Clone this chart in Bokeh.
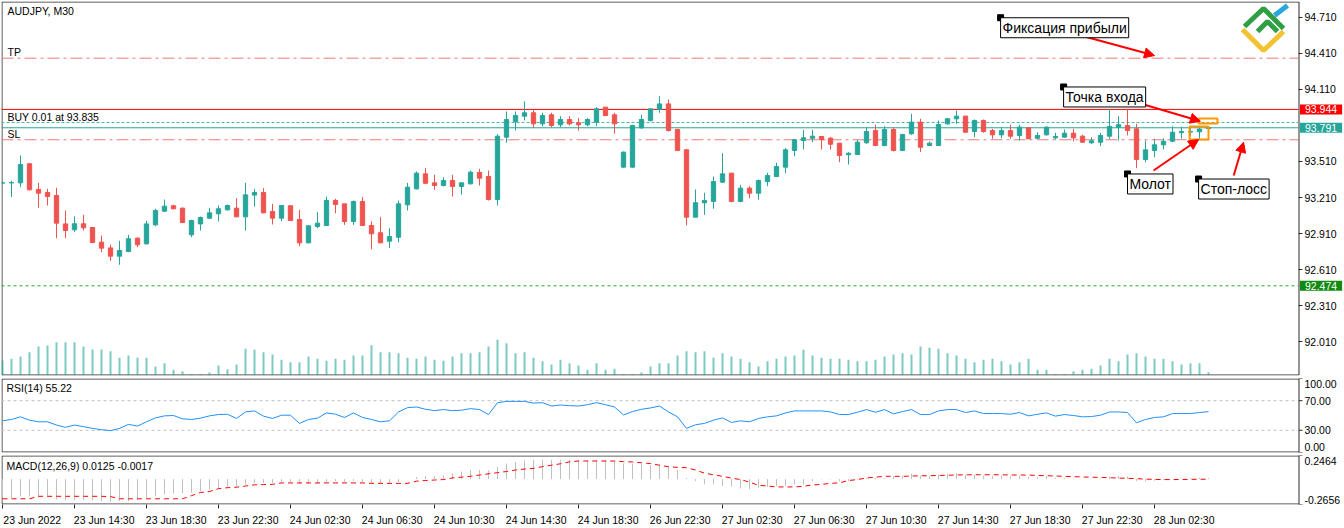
from bokeh.plotting import figure
from bokeh.layouts import column
from bokeh.models import (Range1d, LinearAxis, FixedTicker, Label, Arrow, NormalHead,
                          ColumnDataSource)
from bokeh.core.properties import value
from bokeh.embed import file_html
from bokeh.resources import INLINE

# ---------------- data ----------------
opens = [
    93.330, 93.332, 93.332, 93.491, 93.277, 93.252, 93.227, 92.990, 92.941, 92.991,
    92.960, 92.838, 92.790, 92.721, 92.760, 92.871, 92.824, 92.982, 93.096, 93.141,
    93.121, 92.899, 92.990, 93.038, 93.074, 93.107, 93.121, 93.049, 93.230, 93.252,
    93.093, 93.038, 93.141, 93.027, 92.832, 92.968, 92.977, 93.185, 93.157, 93.010,
    93.177, 92.977, 92.916, 92.846, 92.879, 93.149, 93.282, 93.407, 93.332, 93.310,
    93.352, 93.302, 93.324, 93.418, 93.385, 93.193, 93.713, 93.843, 93.888, 93.916,
    93.824, 93.899, 93.816, 93.860, 93.832, 93.816, 93.838, 93.963, 93.899, 93.463,
    93.463, 93.791, 93.852, 93.943, 93.990, 93.777, 93.607, 93.046, 93.166, 93.177,
    93.338, 93.413, 93.177, 93.288, 93.246, 93.343, 93.385, 93.463, 93.602, 93.685,
    93.704, 93.718, 93.704, 93.663, 93.566, 93.568, 93.666, 93.768, 93.643, 93.777,
    93.602, 93.741, 93.838, 93.643, 93.643, 93.824, 93.866, 93.888, 93.760, 93.852,
    93.768, 93.732, 93.768, 93.727, 93.791, 93.704, 93.732, 93.707, 93.713, 93.746,
    93.721, 93.666, 93.671, 93.721, 93.796, 93.810, 93.782, 93.527, 93.602, 93.649,
    93.679, 93.750, 93.755, 93.757, 93.785]
highs = [
    93.340, 93.350, 93.560, 93.496, 93.332, 93.282, 93.291, 93.102, 93.054, 93.066,
    92.963, 92.893, 92.818, 92.849, 92.899, 92.879, 93.016, 93.116, 93.193, 93.149,
    93.127, 93.024, 93.052, 93.124, 93.143, 93.152, 93.204, 93.332, 93.282, 93.288,
    93.157, 93.143, 93.141, 93.107, 92.977, 93.088, 93.218, 93.199, 93.157, 93.185,
    93.213, 93.010, 93.046, 92.954, 93.185, 93.332, 93.427, 93.457, 93.399, 93.379,
    93.399, 93.332, 93.435, 93.449, 93.435, 93.738, 93.927, 93.927, 94.010, 93.943,
    93.916, 93.916, 93.888, 93.888, 93.871, 93.871, 93.963, 93.963, 93.916, 93.593,
    93.816, 93.899, 93.954, 94.055, 94.027, 93.782, 93.616, 93.277, 93.249, 93.385,
    93.579, 93.413, 93.316, 93.304, 93.360, 93.416, 93.499, 93.621, 93.699, 93.774,
    93.774, 93.721, 93.713, 93.663, 93.588, 93.691, 93.796, 93.816, 93.804, 93.796,
    93.741, 93.907, 93.866, 93.677, 93.852, 93.871, 93.935, 93.893, 93.860, 93.860,
    93.782, 93.796, 93.816, 93.816, 93.796, 93.754, 93.804, 93.749, 93.777, 93.782,
    93.732, 93.713, 93.749, 93.949, 93.888, 93.949, 93.824, 93.685, 93.699, 93.704,
    93.804, 93.800, 93.790, 93.795, 93.795]
lows = [
    93.325, 93.215, 93.296, 93.270, 93.124, 93.143, 92.871, 92.871, 92.921, 92.935,
    92.829, 92.754, 92.682, 92.649, 92.754, 92.796, 92.818, 92.971, 93.093, 93.110,
    92.996, 92.879, 92.935, 93.032, 93.010, 93.102, 93.046, 92.935, 93.135, 93.079,
    92.985, 93.013, 93.018, 92.804, 92.829, 92.954, 92.974, 93.079, 92.982, 92.982,
    92.971, 92.777, 92.832, 92.788, 92.838, 93.102, 93.277, 93.321, 93.274, 93.302,
    93.218, 93.235, 93.318, 93.310, 93.185, 93.143, 93.666, 93.768, 93.852, 93.791,
    93.804, 93.796, 93.796, 93.810, 93.768, 93.804, 93.804, 93.888, 93.741, 93.457,
    93.457, 93.782, 93.843, 93.916, 93.760, 93.596, 92.977, 93.046, 93.066, 93.116,
    93.332, 93.171, 93.171, 93.204, 93.191, 93.304, 93.385, 93.413, 93.554, 93.610,
    93.671, 93.610, 93.610, 93.504, 93.485, 93.568, 93.657, 93.638, 93.638, 93.593,
    93.596, 93.732, 93.588, 93.638, 93.643, 93.816, 93.824, 93.749, 93.713, 93.749,
    93.699, 93.704, 93.699, 93.685, 93.699, 93.699, 93.727, 93.693, 93.707, 93.679,
    93.666, 93.657, 93.638, 93.699, 93.685, 93.727, 93.454, 93.504, 93.546, 93.610,
    93.671, 93.700, 93.720, 93.700, 93.780]
closes = [
    93.332, 93.334, 93.485, 93.274, 93.246, 93.218, 92.996, 92.935, 92.991, 92.957,
    92.835, 92.788, 92.721, 92.768, 92.866, 92.816, 92.990, 93.102, 93.138, 93.116,
    93.002, 93.018, 93.043, 93.082, 93.116, 93.143, 93.049, 93.232, 93.252, 93.082,
    93.038, 93.143, 93.018, 92.832, 92.974, 92.996, 93.185, 93.152, 93.010, 93.177,
    92.977, 92.907, 92.832, 92.885, 93.157, 93.296, 93.413, 93.329, 93.310, 93.352,
    93.302, 93.332, 93.421, 93.371, 93.193, 93.721, 93.860, 93.893, 93.916, 93.824,
    93.893, 93.810, 93.860, 93.824, 93.816, 93.860, 93.949, 93.893, 93.824, 93.588,
    93.810, 93.860, 93.949, 93.990, 93.768, 93.602, 93.046, 93.166, 93.185, 93.343,
    93.407, 93.177, 93.288, 93.246, 93.352, 93.393, 93.468, 93.607, 93.691, 93.707,
    93.721, 93.691, 93.654, 93.560, 93.579, 93.671, 93.760, 93.643, 93.777, 93.602,
    93.735, 93.838, 93.629, 93.663, 93.818, 93.866, 93.888, 93.754, 93.852, 93.760,
    93.732, 93.768, 93.721, 93.796, 93.699, 93.727, 93.796, 93.718, 93.746, 93.707,
    93.671, 93.682, 93.727, 93.802, 93.816, 93.768, 93.527, 93.607, 93.649, 93.679,
    93.754, 93.760, 93.760, 93.780, 93.791]
volume = [
    15, 16.7, 19, 23.3, 29, 30, 33.3, 33.3, 33.3, 29,
    26, 26, 24.3, 17.7, 20, 17.7, 17.7, 9, 12.3, 5.7,
    4.3, 1, 1, 3, 10, 6.3, 11, 26.7, 25.7, 23.3,
    21, 15.7, 13.3, 13.3, 19, 16.7, 14.7, 16.7, 15.7, 20,
    20, 30.3, 23.3, 23.3, 22.3, 17.7, 16.7, 19, 15.7, 14.7,
    19, 22.3, 22.3, 23.3, 29, 35.7, 32.3, 22.3, 23.3, 17.7,
    14.3, 11, 15.7, 12.3, 10, 5.7, 12.3, 5.7, 6.7, 1,
    1, 3, 9, 12.3, 12.3, 20, 24.3, 23.3, 24.3, 17.7,
    22.3, 19, 16.7, 13.3, 9, 14.3, 16.7, 19, 20, 25.7,
    20, 17.7, 16.7, 16.7, 15.7, 14.3, 14.3, 15.7, 19, 21,
    22.3, 21, 29, 27.7, 26.7, 22.3, 20, 16.7, 13.3, 15.7,
    16.7, 14.3, 11, 13.3, 16.7, 5.7, 5.7, 1, 1, 4.3,
    5.7, 6.7, 10, 16.7, 14.3, 21, 22.3, 19, 16.7, 16.7,
    14.3, 11, 12.3, 12.3, 3.3]
rsi = [
    42.8, 44.6, 48.2, 43.7, 41.5, 41.5, 37.1, 34.0, 37.1, 34.9,
    32.6, 30.8, 29.5, 32.6, 38.0, 35.7, 41.5, 46.8, 49.5, 50.0,
    45.5, 44.6, 46.4, 49.5, 51.3, 51.7, 46.0, 54.8, 56.2, 49.1,
    46.0, 50.4, 50.4, 39.3, 44.6, 46.4, 53.5, 51.7, 47.3, 53.5,
    47.3, 44.6, 41.5, 42.8, 54.8, 60.6, 61.5, 58.4, 56.6, 58.0,
    56.6, 57.1, 59.3, 58.0, 51.3, 67.3, 69.1, 69.1, 69.1, 66.8,
    67.3, 62.8, 64.2, 63.3, 62.8, 64.6, 67.3, 64.6, 61.5, 50.8,
    55.3, 58.4, 60.2, 62.8, 54.8, 48.2, 32.6, 37.5, 39.3, 43.7,
    46.8, 40.6, 42.8, 41.5, 46.0, 48.2, 49.5, 53.5, 56.2, 56.2,
    56.2, 56.2, 54.8, 51.3, 51.3, 54.4, 58.0, 54.4, 58.0, 52.2,
    55.3, 58.0, 51.3, 51.3, 56.2, 58.0, 58.0, 54.0, 56.2, 52.6,
    52.6, 52.6, 51.7, 54.0, 49.5, 51.7, 53.5, 49.1, 51.3, 50.0,
    48.2, 48.6, 50.4, 54.8, 54.8, 54.0, 40.2, 44.6, 47.3, 48.2,
    52.6, 52.6, 52.6, 54.0, 55.22]
macd_main = [
    -0.19, -0.20, -0.18, -0.18, -0.19, -0.19, -0.21, -0.22, -0.22, -0.22,
    -0.225, -0.23, -0.235, -0.23, -0.23, -0.22, -0.20, -0.18, -0.16, -0.15,
    -0.15, -0.14, -0.13, -0.11, -0.10, -0.08, -0.08, -0.06, -0.04, -0.04,
    -0.04, -0.03, -0.03, -0.05, -0.05, -0.05, -0.03, -0.02, -0.03, -0.02,
    -0.03, -0.04, -0.05, -0.05, -0.03, 0.00, 0.02, 0.03, 0.03, 0.04,
    0.062, 0.079, 0.095, 0.095, 0.090, 0.129, 0.162, 0.179, 0.196, 0.202,
    0.202, 0.202, 0.202, 0.202, 0.196, 0.196, 0.202, 0.202, 0.189, 0.162,
    0.162, 0.156, 0.146, 0.146, 0.129, 0.095, 0.012, -0.022, -0.055, -0.055,
    -0.072, -0.079, -0.099, -0.105, -0.089, -0.082, -0.072, -0.072, -0.055, -0.055,
    -0.022, -0.005, -0.005, -0.022, -0.022, -0.005, 0.012, 0.012, 0.012, 0.029,
    0.035, 0.055, 0.035, 0.029, 0.045, 0.055, 0.062, 0.045, 0.045, 0.035,
    0.035, 0.035, 0.029, 0.035, 0.022, 0.022, 0.029, 0.012, 0.012, 0.008,
    0.002, 0.002, 0.008, 0.029, 0.035, 0.029, -0.022, -0.025, -0.018, -0.012,
    0.002, 0.005, 0.008, 0.012, 0.0125]
macd_signal = [
    -0.206, -0.206, -0.206, -0.206, -0.18, -0.18, -0.18, -0.18, -0.18, -0.18,
    -0.18, -0.18, -0.183, -0.206, -0.206, -0.206, -0.206, -0.206, -0.206, -0.206,
    -0.206, -0.173, -0.14, -0.13, -0.10, -0.09, -0.085, -0.073, -0.06, -0.057,
    -0.055, -0.04, -0.04, -0.04, -0.04, -0.04, -0.04, -0.04, -0.04, -0.04,
    -0.04, -0.045, -0.045, -0.045, -0.045, -0.045, -0.022, -0.015, -0.01, -0.005,
    0.012, 0.02, 0.029, 0.042, 0.055, 0.067, 0.079, 0.095, 0.105, 0.112,
    0.13, 0.145, 0.16, 0.18, 0.189, 0.189, 0.189, 0.189, 0.189, 0.182,
    0.179, 0.17, 0.162, 0.145, 0.129, 0.122, 0.119, 0.095, 0.062, 0.045,
    0.029, 0.010, -0.005, -0.032, -0.065, -0.072, -0.082, -0.082, -0.082, -0.075,
    -0.062, -0.055, -0.045, -0.039, -0.015, -0.005, 0.012, 0.020, 0.029, 0.029,
    0.029, 0.032, 0.034, 0.035, 0.038, 0.040, 0.043, 0.045, 0.045, 0.045,
    0.045, 0.045, 0.043, 0.042, 0.042, 0.038, 0.035, 0.032, 0.029, 0.025,
    0.022, 0.020, 0.018, 0.014, 0.011, 0.008, 0.004, 0.0, -0.004, -0.005,
    -0.005, -0.004, -0.003, -0.002, -0.0017]

time_tick_bars = [0, 8, 16, 24, 32, 40, 48, 56, 64, 72, 80, 88, 96, 104, 112, 120, 128]
time_tick_labels = ["23 Jun 2022", "23 Jun 14:30", "23 Jun 18:30", "23 Jun 22:30",
                    "24 Jun 02:30", "24 Jun 06:30", "24 Jun 10:30", "24 Jun 14:30",
                    "24 Jun 18:30", "26 Jun 22:30", "27 Jun 02:30", "27 Jun 06:30",
                    "27 Jun 10:30", "27 Jun 14:30", "27 Jun 18:30", "27 Jun 22:30",
                    "28 Jun 02:30"]
price_ticks = [92.01, 92.31, 92.61, 92.91, 93.21, 93.51, 94.11, 94.41, 94.71]
rsi_ticks = [0, 30, 70, 100]
rsi_label_at = [6.8, 30, 70, 93.2]          # MetaTrader pulls edge labels inward
rsi_tick_labels = ["0.00", "30.00", "70.00", "100.00"]
macd_ticks = [-0.2656, 0.2464]
macd_label_at = [-0.2154, 0.186]
macd_tick_labels = ["-0.2656", "0.2464"]

tp_level, ask_level, entry_level, bid_level, sl_level, alert_level = 94.371, 93.944, 93.835, 93.791, 93.691, 92.474

# annotation texts anchored (top-left) at bar index / price
notes_text = ["Фиксация прибыли", "Точка входа", "Молот", "Стоп-лосс"]
notes_x = [110.9, 117.9, 125.0, 132.9]
notes_y = [94.708, 94.131, 93.406, 93.364]
# arrows (start bar, start price, end bar, end price)
arrows = [(119.8, 94.560, 128.0, 94.393),
          (126.8, 93.985, 133.1, 93.846),
          (127.9, 93.435, 132.9, 93.693),
          (136.8, 93.393, 137.9, 93.671)]
# highlight boxes (left bar, right bar, bottom price, top price)
boxes = [(131.9, 134.0, 93.693, 93.802), (132.9, 135.0, 93.827, 93.868)]

# ---------------- style helpers ----------------
FONT = "Liberation Sans"
FS = "10.5px"
TEAL = "#26a69a"
RED = "#ef5350"
FRAME = "#2b2b2b"
BAR_PX = 9.0                     # pixels per bar
AXIS_X = 1296 / BAR_PX           # bar position of the price scale line (x = 1298 px)

n = len(closes)
idx = list(range(n))
x_all = Range1d(-1 / BAR_PX, 1342 / BAR_PX)   # every frame spans the full width; scales drawn inside


def make_fig(height, y_range, top_px, bottom_px, border_bottom):
    f = figure(width=1344, height=height, title=None, x_range=x_range_holder[0], y_range=y_range,
               output_backend="svg", toolbar_location=None, x_axis_location=None,
               y_axis_location=None, min_border_left=1, min_border_right=0,
               min_border_top=1, min_border_bottom=border_bottom,
               background_fill_color="white", border_fill_color="white",
               outline_line_color=None)
    f.grid.grid_line_color = None
    f.extra_x_ranges = {"px": Range1d(1, 1344)}
    f.extra_y_ranges = {"py": Range1d(bottom_px, top_px)}
    # panel border and scale line
    f.multi_line(xs=[[1.5, 1.5, 1298.5, 1298.5, 1.5]],
                 ys=[[bottom_px - 0.5, top_px + 0.5, top_px + 0.5, bottom_px - 0.5, bottom_px - 0.5]],
                 line_color=FRAME, line_width=1, x_range_name="px", y_range_name="py")
    return f


x_range_holder = [x_all]


def draw_scale(f, tick_vals, label_vals, labels):
    f.segment(x0=[AXIS_X] * len(tick_vals), y0=tick_vals,
              x1=[AXIS_X + 4 / BAR_PX] * len(tick_vals), y1=tick_vals,
              line_color=FRAME, line_width=1)
    f.text(x=[AXIS_X] * len(label_vals), y=label_vals, text=labels,
           x_offset=6, text_font=value(FONT), text_font_size=FS, text_color="#000000",
           text_baseline="middle", text_align="left")


def hline(f, lvl, col, dash):
    f.segment(x0=[x_all.start], y0=[lvl], x1=[AXIS_X], y1=[lvl],
              line_color=col, line_dash=dash, line_width=1)


# ---------------- main price panel ----------------
p = make_fig(377, Range1d(91.7267, 94.8433), 1, 375, 2)
p.extra_y_ranges = {"py": Range1d(375, 1), "vol": Range1d(0, 374)}
draw_scale(p, price_ticks, price_ticks, [f"{t:.3f}" for t in price_ticks])

colors = [TEAL if c >= o else RED for o, c in zip(opens, closes)]
src = ColumnDataSource(dict(x=idx, o=opens, h=highs, l=lows, c=closes,
                            top=[max(o, c) for o, c in zip(opens, closes)],
                            bottom=[min(o, c) for o, c in zip(opens, closes)],
                            color=colors, vol=volume, zero=[0] * n))

p.segment(x0="x", y0="zero", x1="x", y1="vol", y_range_name="vol", source=src,
          line_color=TEAL, line_alpha=0.6, line_width=2)

for lvl, col, dash in [(tp_level, "#f07878", "12 4 3 4"),
                       (sl_level, "#f07878", "12 4 3 4"),
                       (ask_level, "#ff0000", "solid"),
                       (entry_level, "#4db6ac", "3 2"),
                       (bid_level, TEAL, "solid"),
                       (alert_level, "#22aa22", "3 3")]:
    hline(p, lvl, col, dash)

p.segment(x0="x", y0="l", x1="x", y1="h", source=src, line_color="color", line_width=1)
p.vbar(x="x", top="top", bottom="bottom", width=0.48, source=src,
       fill_color="color", line_color="color", line_width=1)

# orange highlight boxes
p.quad(left=[b[0] for b in boxes], right=[b[1] for b in boxes],
       bottom=[b[2] for b in boxes], top=[b[3] for b in boxes],
       fill_alpha=0, line_color="#ff9800", line_width=2)

# arrows
for xs, ys, xe, ye in arrows:
    p.add_layout(Arrow(end=NormalHead(size=10, fill_color="#ff0000", line_color="#ff0000", line_width=1),
                       x_start=xs, y_start=ys, x_end=xe, y_end=ye,
                       line_color="#ff0000", line_width=2))

# annotation text boxes
for t, xx, yy in zip(notes_text, notes_x, notes_y):
    p.add_layout(Label(x=xx, y=yy, text=t, text_align="left", text_baseline="top",
                       text_font=FONT, text_font_size="14px", text_color="#000000",
                       background_fill_color="white", border_line_color="#000000",
                       border_line_width=1, padding=2))
p.scatter(x=notes_x, y=notes_y, marker="square", size=6, color="#000000")

# top-left texts (pixel space)
p.text(x=[7, 7, 7, 7], y=[10, 51, 116, 133],
       text=["AUDJPY, M30", "TP", "BUY 0.01 at 93.835", "SL"],
       x_range_name="px", y_range_name="py", text_font=value(FONT), text_font_size=FS,
       text_color="#000000", text_baseline="middle", text_align="left")

# logo (pixel space)
p.multi_line(xs=[[1244, 1263, 1283], [1257, 1267, 1277], [1274, 1287], [1242, 1263, 1283]],
             ys=[[26, 8, 28], [31, 21, 31], [15, 5], [29, 50, 31]],
             line_color=["#2f9e44", "#2f9e44", "#29a8e0", "#f2c230"], line_width=5,
             x_range_name="px", y_range_name="py")

# price tags on the price scale
for lvl, bg in [(ask_level, "#ff0000"), (bid_level, TEAL), (alert_level, "#108a10")]:
    p.add_layout(Label(x=AXIS_X + 1.5 / BAR_PX, y=lvl, text=f"{lvl:.3f}",
                       text_align="left", text_baseline="middle", text_font=FONT,
                       text_font_size=FS, text_color="white", background_fill_color=bg,
                       padding=dict(left=5, right=5, top=1, bottom=1)))

# ---------------- RSI panel ----------------
p2 = make_fig(77, Range1d(0, 100), 378, 452, 2)
draw_scale(p2, rsi_ticks, rsi_label_at, rsi_tick_labels)
for lvl in (30, 70):
    hline(p2, lvl, "#c0c0c0", "3 3")
p2.line(idx, rsi, line_color="#1e90ff", line_width=1)
p2.text(x=[6], y=[387.5], text=["RSI(14) 55.22"], x_range_name="px", y_range_name="py",
        text_font=value(FONT), text_font_size=FS, text_color="#000000",
        text_baseline="middle", text_align="left")

# ---------------- MACD panel ----------------
LAB_SHIFT = 3.3   # time labels start at their tick (MetaTrader style)
p3 = make_fig(74, Range1d(-0.2656, 0.2464), 455, 506, 22)
p3.extra_x_ranges = {"px": Range1d(1, 1344),
                     "lab": Range1d(x_all.start - LAB_SHIFT, x_all.end - LAB_SHIFT)}
draw_scale(p3, macd_ticks, macd_label_at, macd_tick_labels)
p3.segment(x0=idx, y0=[0] * n, x1=idx, y1=macd_main, line_color="#c0c0c0", line_width=1)
p3.line(idx, macd_signal, line_color="#ff0000", line_width=1, line_dash="5 4")
p3.text(x=[6], y=[466], text=["MACD(12,26,9) 0.0125 -0.0017"], x_range_name="px", y_range_name="py",
        text_font=value(FONT), text_font_size=FS, text_color="#000000",
        text_baseline="middle", text_align="left")

time_axis = LinearAxis(x_range_name="lab",
                       ticker=FixedTicker(ticks=time_tick_bars,
                                          minor_ticks=[t - LAB_SHIFT for t in time_tick_bars]),
                       major_label_overrides=dict(zip(time_tick_bars, time_tick_labels)))
time_axis.axis_line_color = None
time_axis.major_tick_out = 0
time_axis.major_tick_in = 0
time_axis.minor_tick_line_color = FRAME
time_axis.minor_tick_out = 4
time_axis.minor_tick_in = 0
time_axis.major_label_text_font = FONT
time_axis.major_label_text_font_size = FS
time_axis.major_label_text_color = "#000000"
time_axis.major_label_standoff = 5
p3.add_layout(time_axis, "below")

layout = column(p, p2, p3, spacing=0)
open("out.html", "w").write(file_html(layout, INLINE, title="AUDJPY M30"))
